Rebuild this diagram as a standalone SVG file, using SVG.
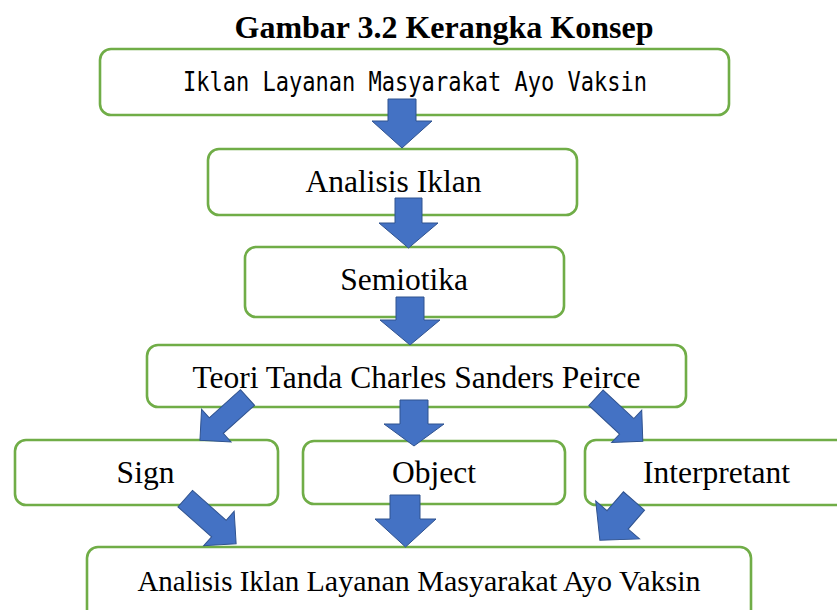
<svg xmlns="http://www.w3.org/2000/svg" width="837" height="610" viewBox="0 0 837 610">
<style>
.box{fill:#ffffff;stroke:#70AD47;stroke-width:2.6}
.t{font-family:"Liberation Serif","Times New Roman",serif;font-size:31.5px;fill:#000;text-anchor:middle}
.mono{font-family:"DejaVu Sans Mono","Liberation Mono",monospace;font-size:27px;fill:#000}
.title{font-family:"Liberation Serif","Times New Roman",serif;font-size:32px;font-weight:bold;fill:#000;text-anchor:middle}
.arr{fill:#4472C4;stroke:#2F528F;stroke-width:1;stroke-linejoin:miter}
</style>
<defs>
<polygon id="d1" points="0,-10.5 42,-10.5 42,-22 64,0 42,22 42,10.5 0,10.5"/>
<polygon id="d2" points="0,-11 45,-11 45,-23 68,0 45,23 45,11 0,11"/>
<polygon id="d3" points="0,-14 25,-14 25,-29 52,0 25,29 25,14 0,14"/>
</defs>
<rect width="837" height="610" fill="#ffffff"/>
<text class="title" x="444" y="38">Gambar 3.2 Kerangka Konsep</text>

<g id="node-iklan">
<rect class="box" x="100" y="49" width="629" height="66" rx="11"/>
<text class="mono" x="183" y="91" textLength="464" lengthAdjust="spacingAndGlyphs">Iklan Layanan Masyarakat Ayo Vaksin</text>
</g>
<g id="node-analisis">
<rect class="box" x="208" y="149" width="369" height="66" rx="11"/>
<text class="t" x="393.5" y="192">Analisis Iklan</text>
</g>
<g id="node-semiotika">
<rect class="box" x="245" y="247" width="319" height="70" rx="11"/>
<text class="t" x="404" y="290">Semiotika</text>
</g>
<g id="node-teori">
<rect class="box" x="147" y="345" width="539" height="62" rx="11"/>
<text class="t" x="416.5" y="388">Teori Tanda Charles Sanders Peirce</text>
</g>
<g id="node-sign">
<rect class="box" x="15" y="440" width="263" height="65" rx="11"/>
<text class="t" x="145.5" y="483">Sign</text>
</g>
<g id="node-object">
<rect class="box" x="303" y="441" width="262" height="63" rx="11"/>
<text class="t" x="434" y="483">Object</text>
</g>
<g id="node-interpretant">
<rect class="box" x="585" y="440" width="275" height="65" rx="11"/>
<text class="t" x="716.5" y="483">Interpretant</text>
</g>
<g id="node-hasil">
<rect class="box" x="87" y="547" width="664" height="80" rx="11"/>
<text class="t" x="419" y="591"><tspan font-size="29">Analisis Iklan </tspan><tspan font-size="30">Layanan Masyarakat Ayo Vaksin</tspan></text>
</g>

<g id="connectors">
<polygon class="arr" points="388,99 416,99 416,121 432,121 402,148 372,121 388,121"/>
<polygon class="arr" points="395,198 422,198 422,223 438,223 408.5,248 379,223 395,223"/>
<polygon class="arr" points="396,297 424,297 424,320 440,320 410,345 380,320 396,320"/>
<polygon class="arr" points="400,400 428,400 428,424 444,424 414,446 384,424 400,424"/>
<polygon class="arr" points="390,495 420,495 420,519 436,519 405.5,547 375,519 390,519"/>
<use class="arr" href="#d1" transform="translate(247.5,397.5) rotate(138)"/>
<use class="arr" href="#d1" transform="translate(596,397.7) rotate(43)"/>
<use class="arr" href="#d2" transform="translate(185.2,498.7) rotate(41.5)"/>
<use class="arr" href="#d3" transform="translate(634,501) rotate(131)"/>
</g>
</svg>
